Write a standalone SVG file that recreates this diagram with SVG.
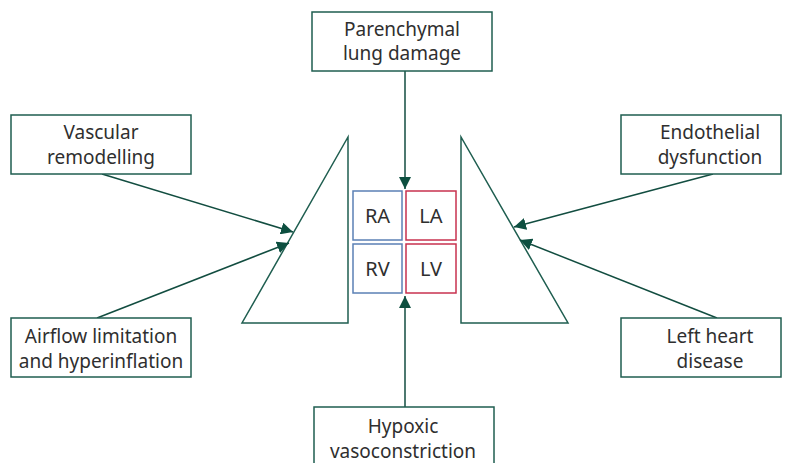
<svg xmlns="http://www.w3.org/2000/svg" width="785" height="463" viewBox="0 0 785 463">
<style>
.box{fill:#fff;stroke:#1f5e50;stroke-width:1.5}
.tri{fill:none;stroke:#1f5e50;stroke-width:1.5}
.t{font-family:"Source Sans Pro","Noto Sans",sans-serif;font-size:19px;fill:#2f2f2f;text-anchor:middle;dominant-baseline:central}
.h{font-size:20px}
.c{stroke:#124d40;stroke-width:1.5;fill:none;marker-end:url(#ah)}
.ra{fill:#fff;stroke:#5b80b5;stroke-width:1.5}
.la{fill:#fff;stroke:#c8324f;stroke-width:1.5}
</style>
<defs>
<marker id="ah" viewBox="0 0 12 12" refX="12" refY="6" markerWidth="12" markerHeight="12" markerUnits="userSpaceOnUse" orient="auto">
<path d="M0,0 L12,6 L0,12 Z" fill="#0d4f40"/>
</marker>
</defs>
<rect width="785" height="463" fill="#fff"/>
<g id="lung-left"><polygon class="tri" points="348,137 348,323 242,323"/></g>
<g id="lung-right"><polygon class="tri" points="461,137 461,323 568,323"/></g>
<g id="connectors">
<line class="c" x1="405" y1="71" x2="405" y2="189"/>
<line class="c" x1="405" y1="407" x2="405" y2="296"/>
<line class="c" x1="102" y1="174" x2="293" y2="232"/>
<line class="c" x1="97" y1="318" x2="289" y2="243"/>
<line class="c" x1="713" y1="174" x2="514" y2="227"/>
<line class="c" x1="717" y1="318" x2="520" y2="240"/>
</g>
<g id="parenchymal"><rect class="box" x="312" y="12" width="180" height="59"/><text class="t" x="402" y="29">Parenchymal</text><text class="t" x="402" y="53">lung damage</text></g>
<g id="vascular"><rect class="box" x="11" y="115" width="180" height="59"/><text class="t" x="101" y="132">Vascular</text><text class="t" x="101" y="157">remodelling</text></g>
<g id="airflow"><rect class="box" x="11" y="318" width="180" height="59"/><text class="t" x="101" y="336">Airflow limitation</text><text class="t" x="101" y="361">and hyperinflation</text></g>
<g id="endothelial"><rect class="box" x="621" y="115" width="160" height="59"/><text class="t" x="710" y="132">Endothelial</text><text class="t" x="710" y="157">dysfunction</text></g>
<g id="leftheart"><rect class="box" x="621" y="318" width="160" height="59"/><text class="t" x="710" y="336">Left heart</text><text class="t" x="710" y="361">disease</text></g>
<g id="hypoxic"><rect class="box" x="314" y="407" width="180" height="70"/><text class="t" x="403" y="426">Hypoxic</text><text class="t" x="403" y="451">vasoconstriction</text></g>
<g id="RA"><rect class="ra" x="353" y="191" width="49" height="49"/><text class="t h" x="377.5" y="215.5">RA</text></g>
<g id="LA"><rect class="la" x="406" y="191" width="50" height="49"/><text class="t h" x="431" y="215.5">LA</text></g>
<g id="RV"><rect class="ra" x="353" y="244" width="49" height="49"/><text class="t h" x="377.5" y="268.5">RV</text></g>
<g id="LV"><rect class="la" x="406" y="244" width="50" height="49"/><text class="t h" x="431" y="268.5">LV</text></g>
</svg>
